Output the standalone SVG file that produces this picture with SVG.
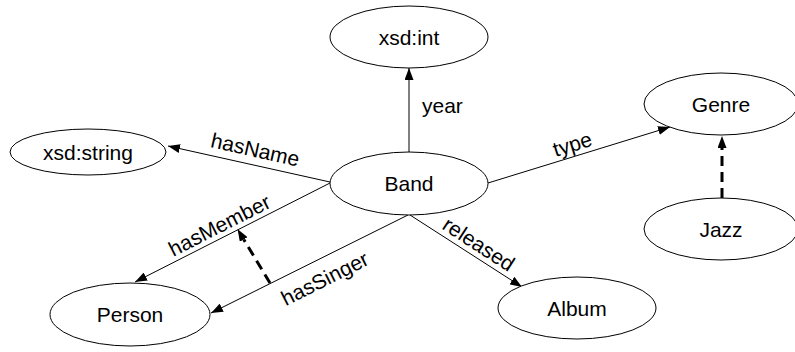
<svg xmlns="http://www.w3.org/2000/svg" width="795" height="352" viewBox="0 0 795 352">
<style>
.node ellipse{fill:#fff;stroke:#000;stroke-width:1}
text{font-family:"Liberation Sans",Arial,sans-serif;font-size:21px;fill:#000}
.nt{text-anchor:middle}
.edge{fill:none;stroke:#000;stroke-width:1}
.dash{fill:none;stroke:#000;stroke-width:3;stroke-dasharray:10 6}
.lbl{text-anchor:middle}
</style>
<defs>
<marker id="arr" markerUnits="userSpaceOnUse" markerWidth="12" markerHeight="9" refX="12" refY="4.5" orient="auto">
<path d="M0,0 L12,4.5 L0,9 z" fill="#000"/>
</marker>
<marker id="arrB" markerUnits="userSpaceOnUse" markerWidth="12" markerHeight="9" refX="0" refY="4.5" orient="auto">
<path d="M0,0 L12,4.5 L0,9 z" fill="#000"/>
</marker>
</defs>
<rect width="795" height="352" fill="#fff"/>
<g id="connectors">
<path class="edge" d="M409,152 L409,68" marker-end="url(#arr)"/>
<path class="edge" d="M330,182 L168,146" marker-end="url(#arr)"/>
<path class="edge" d="M488,183 L670,127" marker-end="url(#arr)"/>
<path class="edge" d="M410,215 L522,287" marker-end="url(#arr)"/>
<path class="edge" d="M330,183 L135,282" marker-end="url(#arr)"/>
<path class="edge" d="M408,215 L211,313" marker-end="url(#arr)"/>
<path class="dash" d="M270,283 L243.7,239.4" marker-end="url(#arrB)"/>
<path class="dash" d="M722,198 L722,148" marker-end="url(#arrB)"/>
<text x="422" y="113">year</text>
<g transform="translate(252,164.6) rotate(12.5)"><text class="lbl" x="0" y="-8">hasName</text></g>
<g transform="translate(576,156) rotate(-17.1)"><text class="lbl" x="0" y="-5">type</text></g>
<g transform="translate(472,254.4) rotate(33.1)"><text class="lbl" x="0" y="-5">released</text></g>
<g transform="translate(225,236.3) rotate(-26.9)"><text class="lbl" x="0" y="-5">hasMember</text></g>
<g transform="translate(316,261) rotate(-26.6)"><text class="lbl" x="0" y="27">hasSinger</text></g>
</g>
<g id="xsd_int" class="node"><ellipse cx="409" cy="37" rx="79" ry="31"/><text class="nt" x="409" y="44.5">xsd:int</text></g>
<g id="band" class="node"><ellipse cx="409" cy="183.5" rx="79" ry="31.5"/><text class="nt" x="409" y="191">Band</text></g>
<g id="xsd_string" class="node"><ellipse cx="88" cy="152" rx="78" ry="23"/><text class="nt" x="88" y="159.5">xsd:string</text></g>
<g id="genre" class="node"><ellipse cx="721" cy="104" rx="77" ry="31"/><text class="nt" x="721" y="111.5">Genre</text></g>
<g id="jazz" class="node"><ellipse cx="721" cy="229" rx="77" ry="31"/><text class="nt" x="721" y="236.5">Jazz</text></g>
<g id="person" class="node"><ellipse cx="130" cy="314.5" rx="80" ry="31.5"/><text class="nt" x="130" y="322">Person</text></g>
<g id="album" class="node"><ellipse cx="577" cy="308" rx="79" ry="31"/><text class="nt" x="577" y="315.5">Album</text></g>
</svg>
